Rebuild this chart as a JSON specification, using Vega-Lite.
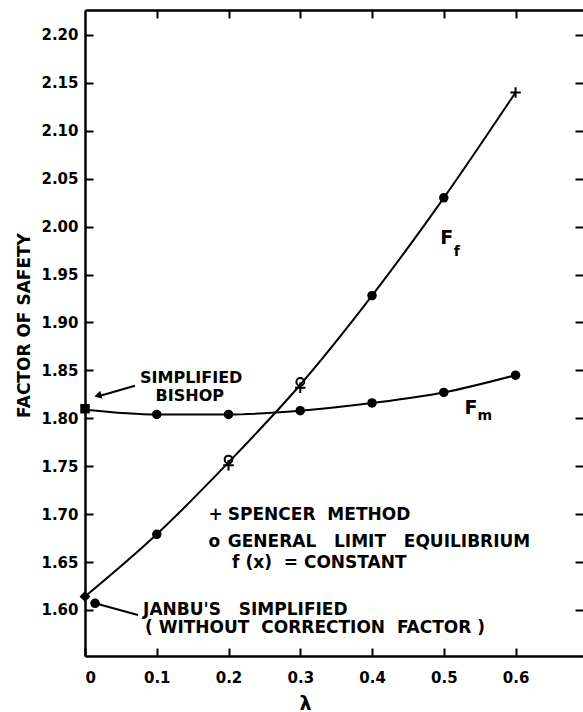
{
  "$schema": "https://vega.github.io/schema/vega-lite/v6.json",
  "width": 498,
  "height": 646,
  "autosize": {"type": "none"},
  "padding": {"left": 85, "top": 10, "right": 0, "bottom": 56},
  "background": "white",
  "config": {
    "view": {"stroke": null},
    "font": "DejaVu Sans",
    "axis": {"grid": false, "domainColor": "black", "tickColor": "black", "labelColor": "black", "titleColor": "black", "labelFont": "DejaVu Sans", "labelFontWeight": "bold", "titleFont": "DejaVu Sans"}
  },
  "datasets": {
    "ff": [
      {"lambda": 0, "fs": 1.614}, {"lambda": 0.1, "fs": 1.679}, {"lambda": 0.2, "fs": 1.754},
      {"lambda": 0.3, "fs": 1.835}, {"lambda": 0.4, "fs": 1.928}, {"lambda": 0.5, "fs": 2.03}, {"lambda": 0.6, "fs": 2.14}
    ],
    "fm": [
      {"lambda": 0, "fs": 1.809}, {"lambda": 0.1, "fs": 1.804}, {"lambda": 0.2, "fs": 1.804},
      {"lambda": 0.3, "fs": 1.808}, {"lambda": 0.4, "fs": 1.816}, {"lambda": 0.5, "fs": 1.827}, {"lambda": 0.6, "fs": 1.845}
    ],
    "markers": [
      {"method": "Fm", "lambda": 0.1, "fs": 1.804}, {"method": "Fm", "lambda": 0.2, "fs": 1.804},
      {"method": "Fm", "lambda": 0.3, "fs": 1.808}, {"method": "Fm", "lambda": 0.4, "fs": 1.816},
      {"method": "Fm", "lambda": 0.5, "fs": 1.827}, {"method": "Fm", "lambda": 0.6, "fs": 1.845},
      {"method": "Ff", "lambda": 0.1, "fs": 1.679}, {"method": "Ff", "lambda": 0.4, "fs": 1.928},
      {"method": "Ff", "lambda": 0.5, "fs": 2.03},
      {"method": "Janbu", "lambda": 0.014, "fs": 1.607},
      {"method": "GLE", "lambda": 0.2, "fs": 1.757}, {"method": "GLE", "lambda": 0.3, "fs": 1.838},
      {"method": "Spencer", "lambda": 0.2, "fs": 1.751}, {"method": "Spencer", "lambda": 0.3, "fs": 1.832},
      {"method": "Spencer", "lambda": 0.6, "fs": 2.14},
      {"method": "Bishop", "lambda": 0, "fs": 1.81},
      {"method": "Ff0", "lambda": 0, "fs": 1.614}
    ],
    "leaders": [
      {"name": "bishop", "lambda": 0.0696, "fs": 1.834, "lambda2": 0.02, "fs2": 1.8232},
      {"name": "janbu", "lambda": 0.014, "fs": 1.607, "lambda2": 0.0738, "fs2": 1.5948}
    ],
    "arrowheads": [{"lambda": 0.018, "fs": 1.8236}],
    "legendnotes": [
      {"text": "+", "lambda": 0.172, "fs": 1.699},
      {"text": "SPENCER \u00a0METHOD", "lambda": 0.199, "fs": 1.699},
      {"text": "o", "lambda": 0.172, "fs": 1.671},
      {"text": "GENERAL \u00a0\u00a0LIMIT \u00a0\u00a0EQUILIBRIUM", "lambda": 0.199, "fs": 1.671},
      {"text": "f (x) \u00a0= CONSTANT", "lambda": 0.205, "fs": 1.649}
    ],
    "leftnotes": [
      {"text": "JANBU'S \u00a0\u00a0SIMPLIFIED", "lambda": 0.081, "fs": 1.6},
      {"text": "( WITHOUT \u00a0CORRECTION \u00a0FACTOR )", "lambda": 0.0836, "fs": 1.581}
    ],
    "centernotes": [
      {"text": "SIMPLIFIED", "lambda": 0.148, "fs": 1.8425},
      {"text": "BISHOP", "lambda": 0.146, "fs": 1.8235}
    ],
    "bigletters": [
      {"text": "F", "lambda": 0.504, "fs": 1.988},
      {"text": "F", "lambda": 0.538, "fs": 1.811}
    ],
    "subscripts": [
      {"text": "f", "lambda": 0.518, "fs": 1.974},
      {"text": "m", "lambda": 0.557, "fs": 1.802}
    ]
  },
  "layer": [
    {
      "data": {"name": "ff"},
      "mark": {"type": "line", "interpolate": "monotone", "color": "black", "strokeWidth": 2},
      "encoding": {
        "x": {"field": "lambda", "type": "quantitative", "scale": {"domain": [0, 0.694], "nice": false, "zero": false},
          "axis": {"orient": "bottom", "values": [0, 0.1, 0.2, 0.3, 0.4, 0.5, 0.6],
            "labelExpr": "datum.value == 0 ? '0' : format(datum.value, '.1f')",
            "tickSize": -8, "tickWidth": 2, "domainWidth": 2.5, "labelFontSize": 15, "labelPadding": 22,
            "title": "λ", "titleFontSize": 19, "titleFontWeight": "bold", "titleX": 220, "titleY": 47, "titleBaseline": "middle", "titleAnchor": null, "titleAlign": "center"}},
        "y": {"field": "fs", "type": "quantitative", "scale": {"domain": [1.552, 2.226], "nice": false, "zero": false},
          "axis": {"orient": "left", "values": [1.6, 1.65, 1.7, 1.75, 1.8, 1.85, 1.9, 1.95, 2.0, 2.05, 2.1, 2.15, 2.2],
            "format": ".2f", "tickSize": -8, "tickWidth": 2, "domainWidth": 2.5, "labelFontSize": 15, "labelPadding": 15,
            "title": "FACTOR OF SAFETY", "titleFontSize": 17, "titleFontWeight": "bold", "titleX": -61, "titleY": 315,
            "titleBaseline": "middle", "titleAlign": "center", "titleAngle": 270}}
      }
    },
    {
      "data": {"name": "fm"},
      "mark": {"type": "line", "interpolate": "monotone", "color": "black", "strokeWidth": 2},
      "encoding": {
        "x": {"field": "lambda", "type": "quantitative",
          "axis": {"orient": "top", "values": [0.1, 0.2, 0.3, 0.4, 0.5, 0.6], "labels": false, "title": null,
            "tickSize": -8, "tickWidth": 2, "domainWidth": 2.5}},
        "y": {"field": "fs", "type": "quantitative",
          "axis": {"orient": "right", "values": [1.6, 1.65, 1.7, 1.75, 1.8, 1.85, 1.9, 1.95, 2.0, 2.05, 2.1, 2.15, 2.2],
            "labels": false, "title": null, "domain": false, "tickSize": -8, "tickWidth": 2}}
      }
    },
    {
      "data": {"name": "leaders"},
      "mark": {"type": "rule", "color": "black", "strokeWidth": 2},
      "encoding": {
        "x": {"field": "lambda", "type": "quantitative", "axis": null},
        "y": {"field": "fs", "type": "quantitative", "axis": null},
        "x2": {"field": "lambda2"},
        "y2": {"field": "fs2"}
      }
    },
    {
      "data": {"name": "arrowheads"},
      "mark": {"type": "point", "shape": "triangle-up", "filled": true, "color": "black", "size": 70, "angle": 255, "opacity": 1},
      "encoding": {
        "x": {"field": "lambda", "type": "quantitative", "axis": null},
        "y": {"field": "fs", "type": "quantitative", "axis": null}
      }
    },
    {
      "data": {"name": "markers"},
      "transform": [{"filter": "datum.method == 'Fm' || datum.method == 'Ff' || datum.method == 'Janbu'"}],
      "mark": {"type": "point", "shape": "circle", "filled": true, "color": "black", "size": 90, "opacity": 1},
      "encoding": {
        "x": {"field": "lambda", "type": "quantitative", "axis": null},
        "y": {"field": "fs", "type": "quantitative", "axis": null}
      }
    },
    {
      "data": {"name": "markers"},
      "transform": [{"filter": "datum.method == 'GLE'"}],
      "mark": {"type": "point", "shape": "circle", "filled": false, "stroke": "black", "strokeWidth": 2, "size": 60, "opacity": 1},
      "encoding": {
        "x": {"field": "lambda", "type": "quantitative", "axis": null},
        "y": {"field": "fs", "type": "quantitative", "axis": null}
      }
    },
    {
      "data": {"name": "markers"},
      "transform": [{"filter": "datum.method == 'Spencer'"}],
      "mark": {"type": "point", "shape": "M-1,0L1,0M0,-1L0,1", "filled": false, "stroke": "black", "strokeWidth": 2, "size": 110, "opacity": 1},
      "encoding": {
        "x": {"field": "lambda", "type": "quantitative", "axis": null},
        "y": {"field": "fs", "type": "quantitative", "axis": null}
      }
    },
    {
      "data": {"name": "markers"},
      "transform": [{"filter": "datum.method == 'Bishop'"}],
      "mark": {"type": "point", "shape": "square", "filled": true, "color": "black", "size": 90, "opacity": 1},
      "encoding": {
        "x": {"field": "lambda", "type": "quantitative", "axis": null},
        "y": {"field": "fs", "type": "quantitative", "axis": null}
      }
    },
    {
      "data": {"name": "markers"},
      "transform": [{"filter": "datum.method == 'Ff0'"}],
      "mark": {"type": "point", "shape": "diamond", "filled": true, "color": "black", "size": 120, "opacity": 1},
      "encoding": {
        "x": {"field": "lambda", "type": "quantitative", "axis": null},
        "y": {"field": "fs", "type": "quantitative", "axis": null}
      }
    },
    {
      "data": {"name": "legendnotes"},
      "mark": {"type": "text", "align": "left", "baseline": "middle", "fontSize": 17, "fontWeight": "bold", "font": "DejaVu Sans", "color": "black"},
      "encoding": {
        "x": {"field": "lambda", "type": "quantitative", "axis": null},
        "y": {"field": "fs", "type": "quantitative", "axis": null},
        "text": {"field": "text"}
      }
    },
    {
      "data": {"name": "leftnotes"},
      "mark": {"type": "text", "align": "left", "baseline": "middle", "fontSize": 17, "fontWeight": "bold", "font": "DejaVu Sans", "color": "black"},
      "encoding": {
        "x": {"field": "lambda", "type": "quantitative", "axis": null},
        "y": {"field": "fs", "type": "quantitative", "axis": null},
        "text": {"field": "text"}
      }
    },
    {
      "data": {"name": "centernotes"},
      "mark": {"type": "text", "align": "center", "baseline": "middle", "fontSize": 16, "fontWeight": "bold", "font": "DejaVu Sans", "color": "black"},
      "encoding": {
        "x": {"field": "lambda", "type": "quantitative", "axis": null},
        "y": {"field": "fs", "type": "quantitative", "axis": null},
        "text": {"field": "text"}
      }
    },
    {
      "data": {"name": "bigletters"},
      "mark": {"type": "text", "align": "center", "baseline": "middle", "fontSize": 19, "fontWeight": "bold", "font": "DejaVu Sans", "color": "black"},
      "encoding": {
        "x": {"field": "lambda", "type": "quantitative", "axis": null},
        "y": {"field": "fs", "type": "quantitative", "axis": null},
        "text": {"field": "text"}
      }
    },
    {
      "data": {"name": "subscripts"},
      "mark": {"type": "text", "align": "center", "baseline": "middle", "fontSize": 14, "fontWeight": "bold", "font": "DejaVu Sans", "color": "black"},
      "encoding": {
        "x": {"field": "lambda", "type": "quantitative", "axis": null},
        "y": {"field": "fs", "type": "quantitative", "axis": null},
        "text": {"field": "text"}
      }
    }
  ]
}
